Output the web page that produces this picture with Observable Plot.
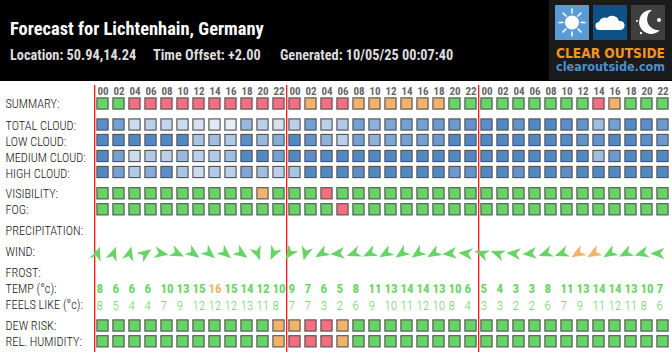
<!DOCTYPE html>
<html><head><meta charset="utf-8">
<script src="https://cdn.jsdelivr.net/npm/d3@7"></script>
<script src="https://cdn.jsdelivr.net/npm/@observablehq/plot@0.6"></script>
<style>
html,body{margin:0;padding:0;background:#fff;width:672px;overflow:hidden}
.cf{font-family:Roboto,"Liberation Sans Narrow",sans-serif;font-stretch:75%}
#head{position:relative;height:81px;background:#000;overflow:hidden}
#head div{position:absolute;white-space:nowrap}
#title{left:10px;top:18px;font-size:18.45px;font-weight:700;color:#fff;line-height:22px}
.sub{top:46px;font-size:14.3px;font-weight:700;color:#ddd;line-height:18px}
#logo{position:absolute;left:549px;top:0}
svg.plot{display:block}
g[aria-label="row labels"] text{letter-spacing:-0.3px}
</style></head><body>
<div id="head" class="cf">
<div id="title">Forecast for Lichtenhain, Germany</div>
<div class="sub" style="left:10px">Location: 50.94,14.24</div>
<div class="sub" style="left:153px">Time Offset: +2.00</div>
<div class="sub" style="left:280px">Generated: 10/05/25 00:07:40</div>
<svg id="logo" width="123" height="80" viewBox="0 0 123 80">
<rect width="123" height="80" fill="#1b1b1b"/>
<rect x="6" y="5" width="34" height="35" fill="#5b9bd5"/>
<g stroke="#fff" stroke-width="1.5" stroke-linecap="round"><path d="M23 9v4M23 32v4M10 22.500h4M32 22.500h4M14 13l3 3M32 13l-3 3M14 32l3-3M32 32l-3-3"/></g>
<circle cx="23" cy="22.500" r="7" fill="#fff"/>
<rect x="44" y="5" width="34" height="35" fill="#0d5286"/>
<path d="M51 30a4 4 0 0 1-1-8a6 6 0 0 1 8-4a7 7 0 0 1 12 3a4.500 4.500 0 0 1 2 9z" fill="#fff"/>
<rect x="82" y="5" width="34" height="35" fill="#3f3f3f"/>
<path d="M103 10a12 12 0 1 0 8 20a11 11 0 0 1-8-20z" fill="#fff"/>
<circle cx="88" cy="21" r="1" fill="#fff"/><circle cx="110" cy="20" r="2" fill="#fff"/><circle cx="92" cy="33" r="1.200" fill="#fff"/>
<text x="61.500" y="57.500" text-anchor="middle" font-family="'DejaVu Sans',sans-serif" font-weight="700" font-size="14.500" textLength="109" lengthAdjust="spacingAndGlyphs" fill="#f7941d">CLEAR OUTSIDE</text>
<text x="61.500" y="71" text-anchor="middle" font-family="'DejaVu Sans',sans-serif" font-weight="700" font-size="12.500" textLength="109" lengthAdjust="spacingAndGlyphs" fill="#4f8fcb">clearoutside.com</text>
</svg>
</div>
<div id="chart"></div>
<script>
// ---- data ----
const dayHours = ["00","02","04","06","08","10","12","14","16","18","20","22"];
const dayStarts = [0, 12, 24];
const rowLabels = ["SUMMARY:","TOTAL CLOUD:","LOW CLOUD:","MEDIUM CLOUD:","HIGH CLOUD:","VISIBILITY:","FOG:","PRECIPITATION:","WIND:","FROST:","TEMP (°c):","FEELS LIKE (°c):","DEW RISK:","REL. HUMIDITY:"];
const summary =    "GGRRRRRRRRRRRORROOOOOOGGGGGGGGGROGGG".split("");
const visibility = "GGGGGGGGGGOGGGRGGGGGGGGGGGGGGGGGGGGG".split("");
const fog =        "GGGGGGGGGGGGGGGRGGGGGGGGGGGGGGGGGGGG".split("");
const dewRisk =    "GGGGGGGGGGGOORROGGGGGGGGGGGGGGGGGGGG".split("");
const humidity =   "GGGGGGGGGGGORRROGGGGGGGGGGGGGGGGGGGG".split("");
const totalCloud =  [95,80,30,40,35,30,25,18,15,60,40,25,40,80,40,45,80,65,75,80,80,85,85,90,95,100,90,100,100,95,90,55,80,98,95,85];
const lowCloud =    [100,100,100,100,100,100,50,55,45,95,60,70,100,90,65,40,80,65,75,80,80,85,100,100,100,100,100,100,100,98,90,90,100,100,95,85];
const mediumCloud = [100,80,30,45,40,60,40,45,55,100,100,80,100,95,100,100,100,100,100,100,100,100,100,100,100,100,100,100,100,100,100,55,85,100,100,100];
const highCloud =   [100,80,45,70,95,50,30,45,40,75,55,40,50,100,100,100,95,100,100,100,100,100,85,90,100,100,90,100,100,95,100,100,100,100,100,100];
const windDir = [20,20,15,55,100,115,125,130,130,125,160,205,215,195,240,265,250,245,240,235,235,240,265,275,290,290,275,265,250,250,240,240,240,245,255,270];
const windLevel = "GGGGGGGGGGGGGGGGGGGGGGGGGGGGGGOOGGGG".split("");
const temp =  [8,6,6,6,10,13,15,16,15,14,12,10,9,7,6,5,8,11,13,14,14,13,10,6,5,4,3,3,8,11,13,14,14,13,10,7];
const feels = [8,5,4,4,7,9,12,12,12,13,11,8,7,7,3,2,6,9,10,11,12,10,8,4,3,3,2,2,6,7,9,11,12,11,8,6];

// ---- layout and style ----
const rowCentre = {"SUMMARY:":103.5,"TOTAL CLOUD:":124.5,"LOW CLOUD:":140,"MEDIUM CLOUD:":156,"HIGH CLOUD:":172,"VISIBILITY:":193.3,"FOG:":209.3,"PRECIPITATION:":230.5,"WIND:":253,"FROST:":272.500,"TEMP (°c):":288.500,"FEELS LIKE (°c):":305.500,"DEW RISK:":325.500,"REL. HUMIDITY:":341.300};
const labelCentre = {"SUMMARY:":104,"TOTAL CLOUD:":126,"LOW CLOUD:":142,"MEDIUM CLOUD:":158,"HIGH CLOUD:":174,"VISIBILITY:":194,"FOG:":210,"PRECIPITATION:":230.500,"WIND:":252,"FROST:":273,"TEMP (°c):":289,"FEELS LIKE (°c):":305,"DEW RISK:":325.500,"REL. HUMIDITY:":341.500};
const status = {G:"#68d468",O:"#f0b26d",R:"#f36f80"};
const blue = d3.interpolateRgb("#ffffff","#5287c7");
const font = 'Roboto,"Liberation Sans Narrow",sans-serif';
const hours = [...dayHours,...dayHours,...dayHours];
const idx = d3.range(hours.length);

const grid = [];
const addStatus = (row, arr) => arr.forEach((s,i)=>grid.push({row,i,fill:status[s]}));
const addCloud  = (row, arr) => arr.forEach((v,i)=>grid.push({row,i,fill:blue(v/100)}));
addStatus("SUMMARY:",summary);
addCloud("TOTAL CLOUD:",totalCloud);
addCloud("LOW CLOUD:",lowCloud);
addCloud("MEDIUM CLOUD:",mediumCloud);
addCloud("HIGH CLOUD:",highCloud);
addStatus("VISIBILITY:",visibility);
addStatus("FOG:",fog);
addStatus("DEW RISK:",dewRisk);
addStatus("REL. HUMIDITY:",humidity);

const dart = {draw(c,l){c.moveTo(0,-l);c.lineTo(l*0.4,-l*0.02);c.lineTo(0,-l*0.3);c.lineTo(-l*0.4,-l*0.02);c.closePath();}};
const tempColor = v => v>=16 ? status.O : status.G;

const chart = Plot.plot({
  width:672,height:271,marginTop:16,marginLeft:0,marginRight:0,marginBottom:0,
  style:{fontFamily:font,fontStretch:"75%",background:"#fff"},
  x:{type:"band",domain:idx,range:[94.5,670.5],paddingInner:0.25,paddingOuter:0.125,round:false,axis:null,label:null},
  y:{domain:[97,352],range:[16,271],axis:null,label:null},
  color:{type:"identity"},
  marks:[
    Plot.axisX(idx,{anchor:"top",label:null,tickSize:0,tickPadding:0,tickFormat:i=>hours[i],fontSize:11,fontWeight:700,fill:"#666",dy:-2.5}),
    Plot.barY(grid,{x:"i",y1:d=>rowCentre[d.row]-5.6,y2:d=>rowCentre[d.row]+5.6,fill:"fill",stroke:"#505050",strokeWidth:1.1,insetLeft:0.4,insetRight:0.4}),
    Plot.ruleX(dayStarts,{x:d=>d,dx:-8.3,y1:85,y2:352,stroke:"#f00",strokeWidth:1.2}),
    Plot.vector(idx,{x:i=>i,y:()=>rowCentre["WIND:"],rotate:i=>windDir[i],length:14.5,shape:dart,anchor:"middle",fill:i=>status[windLevel[i]],stroke:"none",dx:-5.5}),
    Plot.text(idx,{x:i=>i,y:()=>rowCentre["TEMP (°c):"],text:i=>String(temp[i]),textAnchor:"start",dx:-6.5,fontSize:13,fontWeight:700,fill:i=>tempColor(temp[i])}),
    Plot.text(idx,{x:i=>i,y:()=>rowCentre["FEELS LIKE (°c):"],text:i=>String(feels[i]),textAnchor:"start",dx:-6.5,fontSize:13,fontWeight:350,fill:i=>tempColor(feels[i])}),
    Plot.text(rowLabels,{ariaLabel:"row labels",y:d=>labelCentre[d],text:d=>d,frameAnchor:"left",textAnchor:"start",dx:5,fontSize:12.3,fontWeight:300,fill:"#111"})
  ]
});
document.getElementById("chart").append(chart);
</script>
</body></html>
